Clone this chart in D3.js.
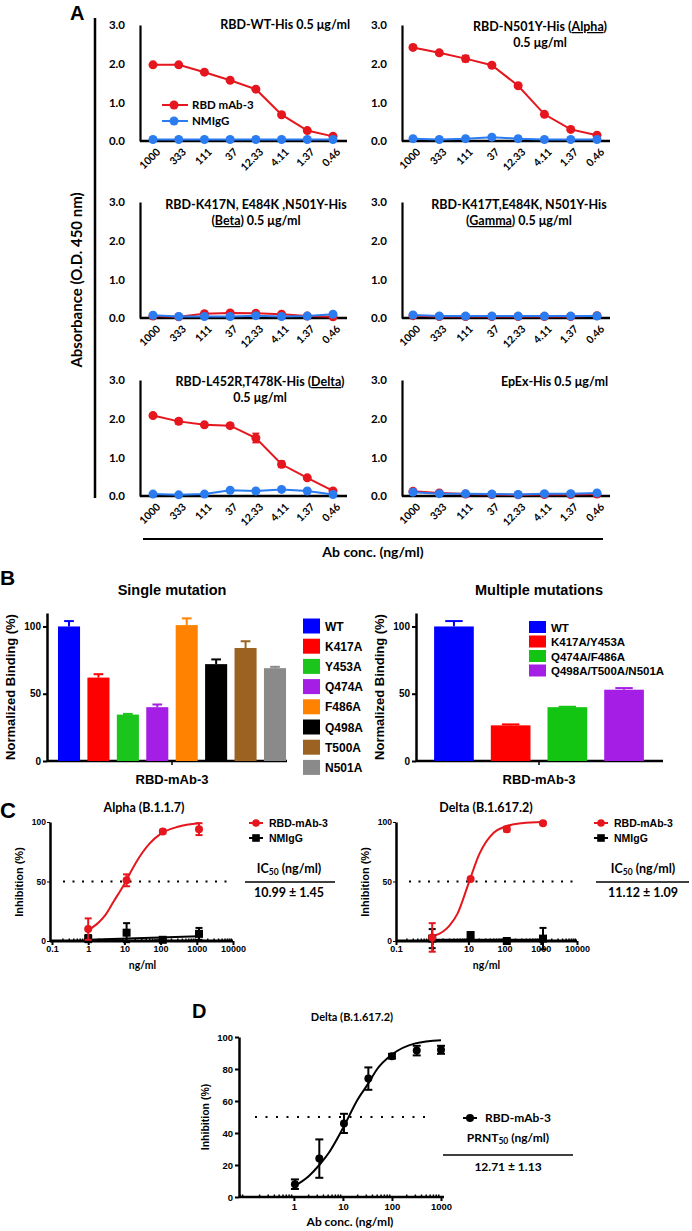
<!DOCTYPE html>
<html>
<head>
<meta charset="utf-8">
<script src="https://cdn.jsdelivr.net/npm/d3@7"></script>
<style>
    body { margin: 0; background: #fff; }
    svg text { font-weight: bold; fill: #000; }
    .cal { font-family: Lato, "Open Sans", sans-serif; }
    .ari { font-family: "Liberation Sans", Arial, sans-serif; }
</style>
</head>
<body>
<svg id="fig" width="692" height="1231"></svg>
<script>
// ---- A: ELISA ----
const concLabels = ["1000", "333", "111", "37", "12.33", "4.11", "1.37", "0.46"];
const absTicks = [0, 1, 2, 3];
const wtMab = [1.97, 1.97, 1.78, 1.57, 1.34, 0.68, 0.27, 0.12];
const wtMabErr = [0.02, 0.02, 0.02, 0.02, 0.02, 0.02, 0.02, 0.02];
const wtIgg = [0.04, 0.04, 0.04, 0.04, 0.04, 0.04, 0.04, 0.04];
const alphaMab = [2.42, 2.28, 2.13, 1.96, 1.43, 0.69, 0.30, 0.15];
const alphaMabErr = [0.03, 0.05, 0.08, 0.04, 0.04, 0.04, 0.03, 0.02];
const alphaIgg = [0.06, 0.04, 0.06, 0.10, 0.06, 0.04, 0.04, 0.04];
const betaMab = [0.05, 0.03, 0.11, 0.13, 0.12, 0.10, 0.05, 0.03];
const betaMabErr = [0.01, 0.01, 0.02, 0.02, 0.02, 0.02, 0.01, 0.01];
const betaIgg = [0.07, 0.04, 0.04, 0.04, 0.06, 0.04, 0.05, 0.10];
const gammaMab = [0.06, 0.04, 0.04, 0.04, 0.04, 0.04, 0.04, 0.06];
const gammaMabErr = [0.01, 0.01, 0.01, 0.01, 0.01, 0.01, 0.01, 0.01];
const gammaIgg = [0.08, 0.05, 0.05, 0.05, 0.05, 0.05, 0.05, 0.05];
const deltaMab = [2.08, 1.93, 1.84, 1.82, 1.50, 0.82, 0.47, 0.13];
const deltaMabErr = [0.04, 0.07, 0.03, 0.05, 0.12, 0.08, 0.04, 0.03];
const deltaIgg = [0.05, 0.03, 0.05, 0.15, 0.13, 0.17, 0.13, 0.04];
const epexMab = [0.12, 0.08, 0.05, 0.04, 0.03, 0.04, 0.04, 0.05];
const epexMabErr = [0.02, 0.01, 0.01, 0.01, 0.01, 0.01, 0.01, 0.01];
const epexIgg = [0.10, 0.06, 0.06, 0.05, 0.04, 0.06, 0.06, 0.08];
const elisaSeries = ["RBD mAb-3", "NMIgG"];

// ---- B: binding ----
const singleLabels = ["WT", "K417A", "Y453A", "Q474A", "F486A", "Q498A", "T500A", "N501A"];
const singleValues = [100, 62, 34.5, 40, 101, 72, 84, 69];
const singleErr = [4, 2.5, 0.5, 2, 5, 3.5, 5, 1];
const singleColors = ["#0000ff", "#ff0000", "#1cc51c", "#a51ee6", "#ff8200", "#000000", "#9c6221", "#8a8a8a"];
const multiLabels = ["WT", "K417A/Y453A", "Q474A/F486A", "Q498A/T500A/N501A"];
const multiValues = [100, 26.5, 40, 53];
const multiErr = [4, 0.7, 0.3, 1.2];
const multiColors = ["#0000ff", "#ff0000", "#12c512", "#a51ee6"];
const bindTicks = [0, 50, 100];

// ---- C: pseudovirus neutralization ----
const neutTicks = [0.1, 1, 10, 100, 1000, 10000];
const neutConc = [1, 11.5, 115, 1150];
const alphaNeutMab = [10, 51, 92, 94];
const alphaNeutMabErr = [9, 5, 1.5, 5];
const alphaNeutIgg = [2, 7, 1, 6];
const alphaNeutIggErr = [3, 8, 1, 5];
const deltaNeutMab = [3, 52, 94, 99];
const deltaNeutMabErr = [12, 1, 2, 1];
const deltaNeutIgg = [2, 5, 0, 2];
const deltaNeutIggErr = [8, 2, 1, 9];
const neutFitConc = [1, 2, 3, 5, 10, 20, 50, 100, 300, 1150];
const alphaFit = [9, 16, 22, 33, 48, 65, 82, 90, 96, 99];
const deltaFit = [4, 8, 13, 23, 48, 73, 91, 96, 99, 100];
const iggFitConc = [1, 1150];
const alphaIggFit = [1, 4];
const deltaIggFit = [1, 1];
const neutSeries = ["RBD-mAb-3", "NMIgG"];

// ---- D: PRNT ----
const prntConc = [1.05, 3.3, 10.5, 33, 100, 320, 1000];
const prntValues = [8, 24, 46, 74, 88, 91.5, 92];
const prntErr = [3, 12, 6, 7, 1.5, 3, 2.5];
const prntFitConc = [1.05, 2, 3.3, 5, 10, 20, 33, 50, 100, 300, 1000];
const prntFit = [7, 13, 20, 27, 43, 61, 71, 80, 89, 96, 98];
const prntXTicks = [1, 10, 100, 1000];
const prntYTicks = [0, 20, 40, 60, 80, 100];

const RED = "#e5161d";
const BLUE = "#2a7cf0";
const svg = d3.select("#fig");

function label(x, y, s, size, cls, anchor) {
    return svg.append("text").attr("x", x).attr("y", y).attr("class", cls)
        .attr("font-size", size).attr("text-anchor", anchor || "start").text(s);
}

function errBars(g, xs, ys, vals, errs, color, cap, sw) {
    vals.forEach((v, i) => {
        const e = errs[i];
        const cx = xs(i);
        g.append("line").attr("x1", cx).attr("x2", cx).attr("y1", ys(v - e)).attr("y2", ys(v + e))
            .attr("stroke", color).attr("stroke-width", sw || 1.5);
        [v - e, v + e].forEach(t => g.append("line").attr("x1", cx - cap).attr("x2", cx + cap)
            .attr("y1", ys(t)).attr("y2", ys(t)).attr("stroke", color).attr("stroke-width", sw || 1.5));
    });
}

// ================= PANEL A =================
label(70, 20, "A", 20, "ari");
svg.append("line").attr("x1", 95).attr("x2", 95).attr("y1", 18).attr("y2", 498)
    .attr("stroke", "#000").attr("stroke-width", 2.5);
label(0, 0, "Absorbance (O.D. 450 nm)", 15, "cal", "middle")
    .attr("transform", "translate(82,280) rotate(-90)");
svg.append("line").attr("x1", 143).attr("x2", 603).attr("y1", 539).attr("y2", 539)
    .attr("stroke", "#000").attr("stroke-width", 2);
label(373, 557, "Ab conc. (ng/ml)", 14, "cal", "middle");

const elisaLayout = [
    { ax: 140, r: [153, 333], end: 347, top: 25, zero: 141, mab: wtMab, err: wtMabErr, igg: wtIgg, legend: true,
      tx: 350, anchor: "end", ty: 29, lines: [[["RBD-WT-His 0.5 μg/ml"]]] },
    { ax: 402, r: [413, 597], end: 610, top: 25, zero: 141, mab: alphaMab, err: alphaMabErr, igg: alphaIgg,
      tx: 540, anchor: "middle", ty: 31, lines: [[["RBD-N501Y-His ("], ["Alpha", 1], [")"]], [["0.5 μg/ml"]]] },
    { ax: 140, r: [153, 333], end: 347, top: 202, zero: 318, mab: betaMab, err: betaMabErr, igg: betaIgg,
      tx: 256, anchor: "middle", ty: 209, lines: [[["RBD-K417N, E484K ,N501Y-His"]], [["("], ["Beta", 1], [") 0.5 μg/ml"]]] },
    { ax: 402, r: [413, 597], end: 610, top: 202, zero: 318, mab: gammaMab, err: gammaMabErr, igg: gammaIgg,
      tx: 519, anchor: "middle", ty: 209, lines: [[["RBD-K417T,E484K, N501Y-His"]], [["("], ["Gamma", 1], [") 0.5 μg/ml"]]] },
    { ax: 140, r: [153, 333], end: 347, top: 380, zero: 496, mab: deltaMab, err: deltaMabErr, igg: deltaIgg,
      tx: 260, anchor: "middle", ty: 386, lines: [[["RBD-L452R,T478K-His ("], ["Delta", 1], [")"]], [["0.5 μg/ml"]]] },
    { ax: 402, r: [413, 597], end: 610, top: 380, zero: 496, mab: epexMab, err: epexMabErr, igg: epexIgg,
      tx: 608, anchor: "end", ty: 386, lines: [[["EpEx-His 0.5 μg/ml"]]] }
];

function drawElisa(p) {
    const x = d3.scalePoint().domain(concLabels).range(p.r);
    const y = d3.scaleLinear().domain([0, 3]).range([p.zero, p.top]);
    const g = svg.append("g").attr("class", "cal");

    g.append("g").attr("transform", `translate(${p.ax},0)`)
        .call(d3.axisLeft(y).tickValues(absTicks).tickFormat(d3.format(".1f")).tickSize(0).tickPadding(15))
        .call(a => {
            a.attr("font-family", null).attr("font-size", 11.5);
            a.select(".domain").attr("stroke-width", 2.2);
        });
    const xa = g.append("g").attr("transform", `translate(0,${p.zero})`)
        .call(d3.axisBottom(x).tickSize(0));
    xa.attr("font-family", null).attr("font-size", 10.5);
    xa.select(".domain").remove();
    xa.selectAll("text").attr("text-anchor", "end").attr("x", 5).attr("y", 9).attr("dy", "0.35em")
        .attr("transform", "rotate(-45 5 9)");
    g.append("line").attr("x1", p.ax).attr("x2", p.end).attr("y1", p.zero).attr("y2", p.zero)
        .attr("stroke", "#000").attr("stroke-width", 2.5);

    const line = d3.line().x((d, i) => x(concLabels[i])).y(d => y(d));
    [[p.mab, RED], [p.igg, BLUE]].forEach(([vals, col]) => {
        g.append("path").datum(vals).attr("d", line).attr("fill", "none")
            .attr("stroke", col).attr("stroke-width", 2);
        if (col === RED) errBars(g, i => x(concLabels[i]), y, vals, p.err, col, 3.5, 1.5);
        g.selectAll(null).data(vals).enter().append("circle")
            .attr("cx", (d, i) => x(concLabels[i])).attr("cy", d => y(d)).attr("r", 4.5).attr("fill", col);
    });

    p.lines.forEach((segs, li) => {
        const t = g.append("text").attr("x", p.tx).attr("y", p.ty + li * 16)
            .attr("text-anchor", p.anchor).attr("font-size", 12.5);
        segs.forEach(s => {
            const ts = t.append("tspan").text(s[0]);
            if (s[1]) ts.attr("text-decoration", "underline");
        });
    });

    if (p.legend) {
        [RED, BLUE].forEach((col, i) => {
            const ly = 105 + i * 16;
            g.append("line").attr("x1", 162).attr("x2", 188).attr("y1", ly).attr("y2", ly)
                .attr("stroke", col).attr("stroke-width", 2);
            g.append("circle").attr("cx", 174).attr("cy", ly).attr("r", 4.5).attr("fill", col);
            g.append("text").attr("x", 192).attr("y", ly + 4).attr("font-size", 11.5).text(elisaSeries[i]);
        });
    }
}
elisaLayout.forEach(drawElisa);

// ================= PANEL B =================
label(0, 585, "B", 21, "ari");

function drawBars(p) {
    const y = d3.scaleLinear().domain([0, 110]).range([761, 613]);
    const x = d3.scaleBand().domain(p.labels).range(p.band).paddingInner(p.pi).paddingOuter(p.po);
    const g = svg.append("g").attr("class", "ari");
    g.append("g").attr("transform", `translate(${p.ax},0)`)
        .call(d3.axisLeft(y).tickValues(bindTicks).tickSize(4).tickSizeOuter(0).tickPadding(2))
        .call(a => {
            a.attr("font-family", null).attr("font-size", 10);
            a.select(".domain").attr("stroke-width", 2.5);
            a.selectAll(".tick line").attr("stroke-width", 2);
        });
    g.append("line").attr("x1", p.ax).attr("x2", p.end).attr("y1", 761).attr("y2", 761)
        .attr("stroke", "#000").attr("stroke-width", 2.5);
    const mid = (x(p.labels[0]) + x(p.labels[p.labels.length - 1]) + x.bandwidth()) / 2;
    g.append("line").attr("x1", mid).attr("x2", mid).attr("y1", 761).attr("y2", 765)
        .attr("stroke", "#000").attr("stroke-width", 1.5);

    g.selectAll(null).data(p.values).enter().append("rect")
        .attr("x", (d, i) => x(p.labels[i])).attr("y", d => y(d))
        .attr("width", x.bandwidth()).attr("height", d => 761 - y(d))
        .attr("fill", (d, i) => p.colors[i]);
    const cap = x.bandwidth() * 0.22;
    p.values.forEach((v, i) => {
        const cx = x(p.labels[i]) + x.bandwidth() / 2;
        g.append("line").attr("x1", cx).attr("x2", cx).attr("y1", y(v)).attr("y2", y(v + p.errs[i]))
            .attr("stroke", p.colors[i]).attr("stroke-width", 2);
        g.append("line").attr("x1", cx - cap).attr("x2", cx + cap).attr("y1", y(v + p.errs[i])).attr("y2", y(v + p.errs[i]))
            .attr("stroke", p.colors[i]).attr("stroke-width", 2);
    });

    g.append("text").attr("x", mid).attr("y", 595).attr("text-anchor", "middle").attr("font-size", 14.5).text(p.title);
    g.append("text").attr("x", mid).attr("y", 784).attr("text-anchor", "middle").attr("font-size", 13).text("RBD-mAb-3");
    g.append("text").attr("transform", `translate(${p.ax - 32},687) rotate(-90)`)
        .attr("text-anchor", "middle").attr("font-size", 13).text("Normalized Binding (%)");

    p.labels.forEach((l, i) => {
        const ly = p.ly + i * p.ldy;
        g.append("rect").attr("x", p.lx).attr("y", ly - p.lh / 2).attr("width", 17).attr("height", p.lh)
            .attr("fill", p.colors[i]);
        g.append("text").attr("x", p.lx + 22).attr("y", ly + 4.5).attr("font-size", p.lfs).text(l);
    });
}

drawBars({ labels: singleLabels, values: singleValues, errs: singleErr, colors: singleColors,
    band: [54.3, 289.7], pi: 0.25, po: 0.125, ax: 47, end: 287, title: "Single mutation",
    lx: 303, ly: 626, ldy: 20.2, lh: 15, lfs: 12 });
drawBars({ labels: multiLabels, values: multiValues, errs: multiErr, colors: multiColors,
    band: [425.6, 652.4], pi: 0.3, po: 0.15, ax: 416, end: 663, title: "Multiple mutations",
    lx: 529, ly: 627, ldy: 14.5, lh: 12, lfs: 11.5 });

// ================= PANEL C =================
label(0, 818, "C", 22, "ari");

function logMinor(lo, hi) {
    const out = [];
    for (let e = Math.log10(lo); e < Math.log10(hi); e++) {
        for (let k = 2; k < 10; k++) out.push(k * Math.pow(10, e));
    }
    return out;
}

function drawNeut(p) {
    const x = d3.scaleLog().domain([0.1, 10000]).range(p.r);
    const y = d3.scaleLinear().domain([0, 100]).range([941, 822]);
    const g = svg.append("g");

    g.append("g").attr("class", "ari").attr("transform", `translate(${p.ax},0)`)
        .call(d3.axisLeft(y).tickValues([0, 50, 100]).tickSize(3).tickSizeOuter(0).tickPadding(1))
        .call(a => {
            a.attr("font-family", null).attr("font-size", 8.5);
            a.select(".domain").attr("stroke-width", 2.5);
        });
    const xa = g.append("g").attr("class", "ari").attr("transform", "translate(0,941)")
        .call(d3.axisBottom(x).tickValues(neutTicks).tickFormat(d => String(d)).tickSize(4).tickSizeOuter(0).tickPadding(1));
    xa.attr("font-family", null).attr("font-size", 9);
    xa.select(".domain").remove();
    xa.selectAll(".tick line").attr("stroke-width", 2);
    g.selectAll(null).data(logMinor(0.1, 10000)).enter().append("line")
        .attr("x1", d => x(d)).attr("x2", d => x(d)).attr("y1", 941).attr("y2", 938.5)
        .attr("stroke", "#000").attr("stroke-width", 1.5);
    g.append("line").attr("x1", p.ax).attr("x2", p.r[1]).attr("y1", 941).attr("y2", 941)
        .attr("stroke", "#000").attr("stroke-width", 3);

    g.append("line").attr("x1", p.dot[0]).attr("x2", p.dot[1]).attr("y1", y(50)).attr("y2", y(50))
        .attr("stroke", "#000").attr("stroke-width", 2).attr("stroke-dasharray", "2,7.5");

    const fitLine = d3.line().curve(d3.curveMonotoneX);
    g.append("path").datum(iggFitConc.map((c, i) => [x(c), y(p.iggFit[i])])).attr("d", fitLine)
        .attr("fill", "none").attr("stroke", "#000").attr("stroke-width", 2);
    g.append("path").datum(neutFitConc.map((c, i) => [x(c), y(p.fit[i])])).attr("d", fitLine)
        .attr("fill", "none").attr("stroke", RED).attr("stroke-width", 2);

    errBars(g, i => x(neutConc[i]), y, p.igg, p.iggErr, "#000", 3.5, 2);
    g.selectAll(null).data(p.igg).enter().append("rect")
        .attr("x", (d, i) => x(neutConc[i]) - 4).attr("y", d => y(d) - 4)
        .attr("width", 8).attr("height", 8).attr("fill", "#000");
    errBars(g, i => x(neutConc[i]), y, p.mab, p.mabErr, RED, 3.5, 2);
    g.selectAll(null).data(p.mab).enter().append("circle")
        .attr("cx", (d, i) => x(neutConc[i])).attr("cy", d => y(d)).attr("r", 4).attr("fill", RED);

    g.append("text").attr("class", "cal").attr("x", p.titleX).attr("y", 812)
        .attr("text-anchor", "middle").attr("font-size", 12.5).text(p.title);
    g.append("text").attr("class", "ari").attr("transform", `translate(${p.ax - 27},882) rotate(-90)`)
        .attr("text-anchor", "middle").attr("font-size", 11).text("Inhibition (%)");
    g.append("text").attr("class", "cal").attr("x", (p.r[0] + p.r[1]) / 2).attr("y", 969)
        .attr("text-anchor", "middle").attr("font-size", 10.5).text("ng/ml");

    // legend
    neutSeries.forEach((s, i) => {
        const ly = 823 + i * 15;
        const col = i === 0 ? RED : "#000";
        g.append("line").attr("x1", p.lx - 7).attr("x2", p.lx + 7).attr("y1", ly).attr("y2", ly)
            .attr("stroke", col).attr("stroke-width", 2);
        if (i === 0) g.append("circle").attr("cx", p.lx).attr("cy", ly).attr("r", 3.8).attr("fill", col);
        else g.append("rect").attr("x", p.lx - 3.8).attr("y", ly - 3.8).attr("width", 7.6).attr("height", 7.6).attr("fill", col);
        g.append("text").attr("class", "ari").attr("x", p.lx + 13).attr("y", ly + 4)
            .attr("font-size", 10.5).text(s);
    });
    const t = g.append("text").attr("class", "cal").attr("x", p.icX).attr("y", 873)
        .attr("text-anchor", "middle").attr("font-size", 12.5);
    t.append("tspan").text("IC");
    t.append("tspan").attr("font-size", 8.5).attr("dy", 2).text("50");
    t.append("tspan").attr("dy", -2).text(" (ng/ml)");
    g.append("line").attr("x1", p.icLine[0]).attr("x2", p.icLine[1]).attr("y1", 882).attr("y2", 882)
        .attr("stroke", "#000").attr("stroke-width", 1.5);
    g.append("text").attr("class", "cal").attr("x", p.icX).attr("y", 897)
        .attr("text-anchor", "middle").attr("font-size", 12.5).text(p.ic);
}

drawNeut({ ax: 50, r: [52, 233], dot: [63, 233], title: "Alpha (B.1.1.7)", titleX: 144,
    mab: alphaNeutMab, mabErr: alphaNeutMabErr, igg: alphaNeutIgg, iggErr: alphaNeutIggErr,
    fit: alphaFit, iggFit: alphaIggFit, lx: 256, icX: 289, icLine: [245, 335], ic: "10.99 ± 1.45" });
drawNeut({ ax: 396, r: [396, 577], dot: [409, 576], title: "Delta (B.1.617.2)", titleX: 486,
    mab: deltaNeutMab, mabErr: deltaNeutMabErr, igg: deltaNeutIgg, iggErr: deltaNeutIggErr,
    fit: deltaFit, iggFit: deltaIggFit, lx: 601, icX: 643, icLine: [596, 689], ic: "11.12 ± 1.09" });

// ================= PANEL D =================
label(192, 1018, "D", 20, "ari");
label(352, 1021, "Delta (B.1.617.2)", 11, "cal", "middle");
(function () {
    const x = d3.scaleLog().domain([0.076, 1000]).range([239, 441]);
    const y = d3.scaleLinear().domain([0, 100]).range([1197, 1037]);
    const g = svg.append("g");
    g.append("g").attr("class", "ari").attr("transform", "translate(239,0)")
        .call(d3.axisLeft(y).tickValues(prntYTicks).tickSize(4).tickSizeOuter(0).tickPadding(2))
        .call(a => {
            a.attr("font-family", null).attr("font-size", 9.5);
            a.select(".domain").attr("stroke-width", 2.5);
            a.selectAll(".tick line").attr("stroke-width", 2);
        });
    const xa = g.append("g").attr("class", "ari").attr("transform", "translate(0,1197)")
        .call(d3.axisBottom(x).tickValues(prntXTicks).tickFormat(d => String(d)).tickSize(4).tickSizeOuter(0).tickPadding(2));
    xa.attr("font-family", null).attr("font-size", 9.5);
    xa.select(".domain").remove();
    xa.selectAll(".tick line").attr("stroke-width", 2);
    g.selectAll(null).data(logMinor(0.01, 1000).filter(d => d > 0.076 && d < 1000)).enter().append("line")
        .attr("x1", d => x(d)).attr("x2", d => x(d)).attr("y1", 1197).attr("y2", 1194.5)
        .attr("stroke", "#000").attr("stroke-width", 1.5);
    g.append("line").attr("x1", 239).attr("x2", 444).attr("y1", 1197).attr("y2", 1197)
        .attr("stroke", "#000").attr("stroke-width", 2.5);

    g.append("line").attr("x1", 255).attr("x2", 433).attr("y1", y(50)).attr("y2", y(50))
        .attr("stroke", "#000").attr("stroke-width", 2).attr("stroke-dasharray", "2,8.5");
    g.append("path").datum(prntFitConc.map((c, i) => [x(c), y(prntFit[i])]))
        .attr("d", d3.line().curve(d3.curveMonotoneX)).attr("fill", "none")
        .attr("stroke", "#000").attr("stroke-width", 2);
    errBars(g, i => x(prntConc[i]), y, prntValues, prntErr, "#000", 4, 2);
    g.selectAll(null).data(prntValues).enter().append("circle")
        .attr("cx", (d, i) => x(prntConc[i])).attr("cy", d => y(d)).attr("r", 4).attr("fill", "#000");

    g.append("text").attr("class", "ari").attr("transform", "translate(209,1117) rotate(-90)")
        .attr("text-anchor", "middle").attr("font-size", 10.5).text("Inhibition (%)");
    g.append("text").attr("class", "cal").attr("x", 350).attr("y", 1226)
        .attr("text-anchor", "middle").attr("font-size", 12).text("Ab conc. (ng/ml)");

    g.append("line").attr("x1", 463).attr("x2", 477).attr("y1", 1118).attr("y2", 1118)
        .attr("stroke", "#000").attr("stroke-width", 2);
    g.append("circle").attr("cx", 470).attr("cy", 1118).attr("r", 4).attr("fill", "#000");
    g.append("text").attr("class", "cal").attr("x", 485).attr("y", 1122).attr("font-size", 12).text("RBD-mAb-3");
    const t = g.append("text").attr("class", "cal").attr("x", 508).attr("y", 1142)
        .attr("text-anchor", "middle").attr("font-size", 12);
    t.append("tspan").text("PRNT");
    t.append("tspan").attr("font-size", 8.5).attr("dy", 2).text("50");
    t.append("tspan").attr("dy", -2).text(" (ng/ml)");
    g.append("line").attr("x1", 443).attr("x2", 573).attr("y1", 1155).attr("y2", 1155)
        .attr("stroke", "#000").attr("stroke-width", 1.5);
    g.append("text").attr("class", "cal").attr("x", 508).attr("y", 1171)
        .attr("text-anchor", "middle").attr("font-size", 12).text("12.71 ± 1.13");
})();
</script>
</body>
</html>
